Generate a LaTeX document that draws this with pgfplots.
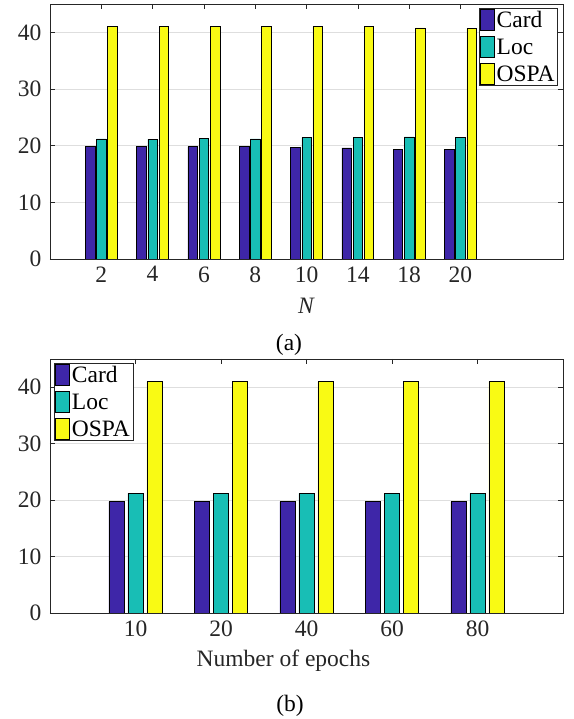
\documentclass[border=0pt]{standalone}
\usepackage{pgfplots}
\pgfplotsset{compat=1.18}
\usepackage{fontspec}
\setmainfont{Liberation Serif}
\definecolor{cCard}{RGB}{62,38,168}
\definecolor{cLoc}{RGB}{24,190,181}
\definecolor{cOSPA}{RGB}{249,250,20}
\definecolor{axgray}{RGB}{38,38,38}
\newcommand{\fs}{\fontsize{23.5bp}{27bp}\selectfont}
\pgfplotsset{
  mybar/.style={
    scale only axis, width=513bp, height=255bp,
    ymin=0, ymax=45, ytick={0,10,20,30,40},
    /pgf/number format/assume math mode=true,
    ymajorgrids, grid style={black!13, line width=0.6pt},
    axis line style={axgray, line width=0.6pt},
    tick style={axgray, line width=0.6pt}, major tick length=5bp,
    tick align=inside,
    ticklabel style={font=\fs, text=axgray},
    xticklabel style={yshift=-4bp},
    yticklabel style={xshift=-5bp},
    legend style={draw=axgray, line width=0.6pt, font=\fs, inner sep=1bp,
      cells={anchor=west}, row sep=5bp, column sep=0bp},
    legend image code/.code={\draw[##1, draw=black, line width=0.5pt] (0bp,-10bp) rectangle (14bp,11bp);},
  },
  cardbar/.style={ybar, fill=cCard, draw=black, line width=0.5pt},
  locbar/.style={ybar, fill=cLoc, draw=black, line width=0.5pt},
  ospabar/.style={ybar, fill=cOSPA, draw=black, line width=0.5pt},
}
\begin{document}
\begin{tikzpicture}
\useasboundingbox (0,0) rectangle (574bp,719bp);
% (a)
\begin{axis}[mybar, at={(50bp,460bp)}, anchor=south west,
  xmin=0, xmax=10, xtick={1,...,8}, xticklabels={2,4,6,8,10,14,18,20},
  legend style={at={(rel axis cs:0.99,0.985)}, anchor=north east}]
\addplot[cardbar, bar width=0.185, bar shift=-0.218] coordinates {(1,19.9) (2,19.9) (3,19.85) (4,19.9) (5,19.7) (6,19.6) (7,19.3) (8,19.3)};
\addplot[locbar, bar width=0.185, bar shift=0] coordinates {(1,21.2) (2,21.15) (3,21.3) (4,21.2) (5,21.4) (6,21.5) (7,21.55) (8,21.4)};
\addplot[ospabar, bar width=0.185, bar shift=0.218] coordinates {(1,41.05) (2,41.05) (3,41.05) (4,41.05) (5,41.0) (6,41.05) (7,40.8) (8,40.7)};
\legend{Card,Loc,OSPA}
\end{axis}
\node[font=\fs\itshape, text=axgray] at (306bp,413bp) {N};
\node[font=\fs] at (289bp,374bp) {(a)};
% (b)
\begin{axis}[mybar, at={(50bp,106bp)}, anchor=south west, height=254bp,
  xmin=0, xmax=6, xtick={1,...,5}, xticklabels={10,20,40,60,80},
  legend style={at={(rel axis cs:0.008,0.985)}, anchor=north west}]
\addplot[cardbar, bar width=0.178, bar shift=-0.223] coordinates {(1,19.75) (2,19.75) (3,19.75) (4,19.75) (5,19.75)};
\addplot[locbar, bar width=0.178, bar shift=0] coordinates {(1,21.2) (2,21.2) (3,21.2) (4,21.2) (5,21.2)};
\addplot[ospabar, bar width=0.178, bar shift=0.223] coordinates {(1,41.0) (2,41.0) (3,41.0) (4,41.0) (5,41.0)};
\legend{Card,Loc,OSPA}
\end{axis}
\node[font=\fs, text=axgray] at (283.5bp,58.5bp) {Number of epochs};
\node[font=\fs] at (290bp,13bp) {(b)};
\end{tikzpicture}
\end{document}
